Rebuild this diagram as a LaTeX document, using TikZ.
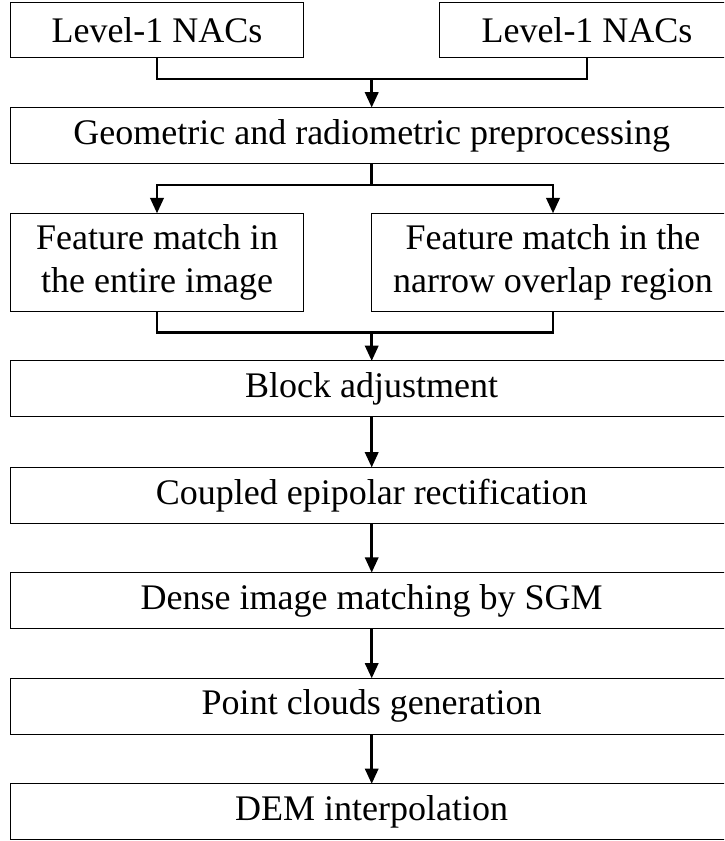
\documentclass[tikz,border=0pt]{standalone}
\usepackage{fontspec}
\setmainfont{Liberation Serif}
\usetikzlibrary{arrows.meta}
\tikzset{
  box/.style={draw=black, line width=0.75pt, rectangle, inner sep=0pt, outer sep=0pt,
    align=center, font=\fontsize{27}{31.7}\selectfont, minimum height=41.8pt},
  conn/.style={line width=1.9pt, line join=miter},
  arr/.style={conn, -{Triangle[length=11.5pt,width=10pt]}}
}
\begin{document}
\begin{tikzpicture}[x=0.75pt,y=-0.75pt]
\useasboundingbox (0,0) rectangle (724,841);
\clip (0,0) rectangle (724,841);
\node[box, minimum width=219.45pt, minimum height=41.25pt] (L1) at (157,30.2) {Level-1 NACs};
\node[box, minimum width=221.25pt, minimum height=41.25pt] (L2) at (587,30.2) {Level-1 NACs};
\node[box, minimum width=541.5pt] (G) at (371.7,135.4) {Geometric and radiometric preprocessing};
\node[box, minimum width=219.45pt, minimum height=73.8pt] (F1) at (157,262.5) {Feature match in\\the entire image};
\node[box, minimum width=272.25pt, minimum height=73.8pt] (F2) at (553,262.5) {Feature match in the\\narrow overlap region};
\node[box, minimum width=541.5pt] (B) at (371.7,388.8) {Block adjustment};
\node[box, minimum width=541.5pt] (C) at (371.7,495.3) {Coupled epipolar rectification};
\node[box, minimum width=541.5pt] (D) at (371.7,600.5) {Dense image matching by SGM};
\node[box, minimum width=541.5pt] (P) at (371.7,706.2) {Point clouds generation};
\node[box, minimum width=541.5pt] (E) at (371.7,811.7) {DEM interpolation};
\coordinate (j1) at (371.7,79);
\coordinate (j2) at (371.7,185);
\coordinate (j3) at (371.7,332.5);
\draw[conn] (L1.south) |- (j1) -| (L2.south);
\draw[arr] (j1) -- (G.north);
\draw[conn] (G.south) -- (j2);
\draw[arr] (j2) -| (F1.north);
\draw[arr] (j2) -| (F2.north);
\draw[conn] (F1.south) |- (j3) -| (F2.south);
\draw[arr] (j3) -- (B.north);
\draw[arr] (B) -- (C);
\draw[arr] (C) -- (D);
\draw[arr] (D) -- (P);
\draw[arr] (P) -- (E);
\end{tikzpicture}
\end{document}
